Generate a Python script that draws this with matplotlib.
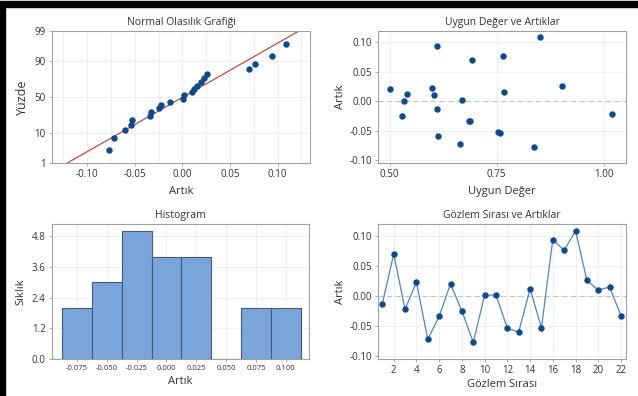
"""Minitab-style four-in-one residual plots (Artık grafikleri)."""

from statistics import NormalDist

import numpy as np
import matplotlib
matplotlib.use("Agg")
import matplotlib.pyplot as plt
from matplotlib.patches import Rectangle
from matplotlib.ticker import MultipleLocator

plt.rcParams["font.family"] = ["Open Sans", "DejaVu Sans"]

# residuals in observation order, and the fitted value of each observation
obs = np.arange(1, 23)
resid = [-0.013, 0.070, -0.022, 0.023, -0.072, -0.034, 0.020, -0.025, -0.077, 0.001, 0.002,
         -0.054, -0.060, 0.012, -0.053, 0.094, 0.076, 0.109, 0.026, 0.010, 0.015, -0.033]
fitted = [0.610, 0.692, 1.019, 0.600, 0.6655, 0.6875, 0.502, 0.530, 0.838, 0.533, 0.670,
          0.7567, 0.6135, 0.541, 0.7536, 0.610, 0.766, 0.8516, 0.903, 0.603, 0.768, 0.686]
hist_bins = [-0.0875, -0.0625, -0.0375, -0.0125, 0.0125, 0.0375, 0.0625, 0.0875, 0.1125]
pct_ticks = [1, 10, 50, 90, 99]

DOT = "#0d4a8c"
GRID = "#ececec"
SPINE = "#a0a0a0"
TXT = "#333333"
nd = NormalDist()


def style(ax):
    for s in ax.spines.values():
        s.set_color(SPINE)
        s.set_linewidth(0.8)
    ax.tick_params(length=2.5, width=0.6, color=SPINE, labelsize=7, pad=2,
                   labelcolor=TXT)
    ax.grid(True, color=GRID, lw=0.6)
    ax.set_axisbelow(True)


fig = plt.figure(figsize=(6.38, 3.96), dpi=100)
W, H = 638, 396


def axes_px(l, t, r, b):
    return fig.add_axes([l / W, 1 - b / H, (r - l) / W, (b - t) / H])


tfs, lfs = 7.5, 8

# (1) normal probability plot
ax = axes_px(52, 31, 310, 163)
r = np.sort(np.array(resid))
n = len(r)
p = (np.arange(1, n + 1) - 0.3) / (n + 0.4)
z = [nd.inv_cdf(v) for v in p]
mu, sd = np.mean(resid), np.std(resid, ddof=1)
zl = np.array([nd.inv_cdf(0.01), nd.inv_cdf(0.99)])
ax.plot(mu + sd * zl, zl, color="#b8393d", lw=0.8, zorder=2)
ax.plot(r, z, "o", color=DOT, ms=3.6, zorder=3)
ax.set_ylim(zl[0], zl[1])
ax.set_xlim(-0.137, 0.134)
ax.set_yticks([nd.inv_cdf(v / 100) for v in pct_ticks])
ax.set_yticklabels([str(v) for v in pct_ticks])
ax.set_xticks([-0.10, -0.05, 0.0, 0.05, 0.10])
ax.set_xticklabels(["-0.10", "-0.05", "0.00", "0.05", "0.10"])
ax.xaxis.set_minor_locator(MultipleLocator(0.025))
style(ax)
ax.grid(True, which="minor", axis="x", color=GRID, lw=0.6)
ax.tick_params(which="minor", length=0)
ax.set_title("Normal Olasılık Grafiği", fontsize=tfs, pad=4, color=TXT)
ax.set_xlabel("Artık", fontsize=lfs, labelpad=4, color=TXT)
ax.set_ylabel("Yüzde", fontsize=lfs + 1, labelpad=4, color=TXT)

# (2) residuals vs fitted
ax = axes_px(378, 31, 626, 163)
ax.axhline(0, color="#c4c4c4", lw=0.9, ls=(0, (4, 3)), zorder=2)
ax.plot(fitted, resid, "o", color=DOT, ms=3.6, zorder=3)
ax.set_xlim(0.473, 1.052)
ax.set_ylim(-0.105, 0.119)
ax.set_xticks([0.50, 0.75, 1.00])
ax.set_xticklabels(["0.50", "0.75", "1.00"])
ax.set_yticks([-0.10, -0.05, 0.0, 0.05, 0.10])
ax.set_yticklabels(["-0.10", "-0.05", "0.00", "0.05", "0.10"])
style(ax)
ax.set_title("Uygun Değer ve Artıklar", fontsize=tfs, pad=4, color=TXT)
ax.set_xlabel("Uygun Değer", fontsize=lfs, labelpad=4, color=TXT)
ax.set_ylabel("Artık", fontsize=lfs, labelpad=2, color=TXT)

# (3) histogram
ax = axes_px(52, 224, 309, 359)
ax.hist(resid, bins=hist_bins, color="#7aa5da", edgecolor="#44597a", lw=0.8, zorder=3)
ax.set_xlim(-0.096, 0.1195)
ax.set_ylim(0, 5.27)
ax.set_yticks([0.0, 1.2, 2.4, 3.6, 4.8])
ax.set_yticklabels(["0.0", "1.2", "2.4", "3.6", "4.8"])
ax.set_xticks([-0.075, -0.05, -0.025, 0.0, 0.025, 0.05, 0.075, 0.10])
ax.set_xticklabels(["-0.075", "-0.050", "-0.025", "0.000", "0.025", "0.050", "0.075", "0.100"])
style(ax)
ax.tick_params(axis="x", labelsize=5.5)
ax.set_title("Histogram", fontsize=tfs, pad=4, color=TXT)
ax.set_xlabel("Artık", fontsize=lfs, labelpad=3, color=TXT)
ax.set_ylabel("Sıklık", fontsize=lfs, labelpad=4, color=TXT)

# (4) residuals vs observation order
ax = axes_px(378, 224, 626, 359)
ax.axhline(0, color="#c4c4c4", lw=0.9, ls=(0, (4, 3)), zorder=2)
ax.plot(obs, resid, "-", color="#4f86bd", lw=0.9, zorder=3)
ax.plot(obs, resid, "o", color=DOT, ms=3.6, zorder=4)
ax.set_xlim(0.62, 22.44)
ax.set_ylim(-0.105, 0.12)
ax.set_xticks(np.arange(2, 23, 2))
ax.set_yticks([-0.10, -0.05, 0.0, 0.05, 0.10])
ax.set_yticklabels(["-0.10", "-0.05", "0.00", "0.05", "0.10"])
style(ax)
ax.set_title("Gözlem Sırası ve Artıklar", fontsize=tfs, pad=4, color=TXT)
ax.set_xlabel("Gözlem Sırası", fontsize=lfs, labelpad=2, color=TXT)
ax.set_ylabel("Artık", fontsize=lfs, labelpad=2, color=TXT)

# black frame on top and left edges of the screenshot
fig.patches.append(Rectangle((0, 1 - 6.5 / H), 1, 5 / H, transform=fig.transFigure,
                             color="black", zorder=10))
fig.patches.append(Rectangle((0, 0), 5 / W, 1 - 1.5 / H, transform=fig.transFigure,
                             color="black", zorder=10))

fig.savefig("out.png", dpi=100)
plt.close(fig)
